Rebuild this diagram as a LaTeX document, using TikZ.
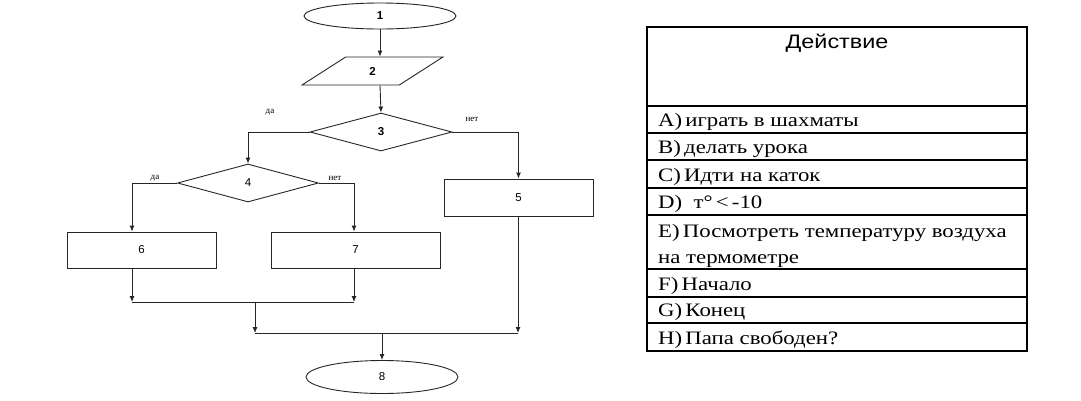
\documentclass[tikz,border=0pt]{standalone}
\usepackage{fontspec}
\setmainfont{Liberation Serif}
\newfontfamily\sansf{Liberation Sans}
\newfontfamily\rowf[FakeStretch=1.2]{Liberation Serif}
\newfontfamily\hdf[FakeStretch=1.2]{Liberation Sans}
\usetikzlibrary{shapes.geometric,arrows.meta}
\begin{document}
\begin{tikzpicture}[x=1pt,y=-1pt,
  fl/.style={draw=black!85,line width=0.9pt},
  arr/.style={fl,-{Latex[length=6pt,width=5pt]}},
  term/.style={fl,ellipse,inner sep=0pt,minimum width=152pt,font=\sansf\fontsize{11.5}{12}\selectfont},
  io/.style={fl,trapezium,trapezium left angle=57,trapezium right angle=123,trapezium stretches=true,inner sep=0pt,minimum width=141pt,minimum height=28pt,font=\sansf\bfseries\fontsize{11.5}{12}\selectfont},
  cond/.style={fl,diamond,inner sep=0pt,minimum width=142pt,minimum height=38pt,font=\sansf\fontsize{11.5}{12}\selectfont},
  proc/.style={fl,rectangle,inner sep=0pt,minimum width=149pt,minimum height=36pt,font=\sansf\fontsize{11.5}{12}\selectfont},
  yn/.style={font=\fontsize{9}{10}\selectfont,inner sep=0pt},
  tline/.style={draw=black,line width=1.2pt},
  row/.style={anchor=base west,inner sep=0pt,font=\rowf\fontsize{19}{20}\selectfont}
]
\useasboundingbox (0,0) rectangle (1081,400);
% flowchart
\node[term,minimum height=26pt] (n1) at (380,16) {\bfseries 1};
\node[io] (n2) at (372.5,71) {2};
\node[cond,font=\sansf\bfseries\fontsize{11.5}{12}\selectfont] (n3) at (381,132) {3};
\node[cond,minimum width=141pt] (n4) at (248,183) {4};
\node[proc,minimum height=37pt] (n5) at (518.5,197.5) {5};
\node[proc] (n6) at (141.5,250) {6};
\node[proc,minimum width=169pt] (n7) at (355.5,250) {7};
\node[term,minimum height=33pt] (n8) at (382,377) {8};

\node[yn] (y3) at (270,112) {да};
\node[yn] (no3) at (472,119) {нет};
\node[yn] (y4) at (155,178) {да};
\node[yn] (no4) at (335,178) {нет};

\coordinate (m6) at (132,302);
\coordinate (m7) at (354,302);
\coordinate (ja) at (255,302);
\coordinate (jb) at (255,333);
\coordinate (m5) at (518,333);

\draw[arr] (n1.south) -- (n1.south |- n2.north);
\draw[arr] (n1.south |- n2.south) -- (n3.north);
\draw[arr] (n3.west) -| (n4.north);
\draw[arr] (n3.east) -| (n5.north);
\draw[arr] (n4.west) -| (n6.north -| m6);
\draw[arr] (n4.east) -| (n7.north -| m7);
\draw[arr] (n6.south -| m6) -- (m6);
\draw[arr] (n7.south -| m7) -- (m7);
\draw[fl] (m6) -- (m7);
\draw[arr] (ja) -- (jb);
\draw[fl] (jb) -- (m5);
\draw[arr] (n5.south -| m5) -- (m5);
\draw[arr] (n8.north |- jb) -- (n8.north);

% table
\draw[tline] (647,27) rectangle (1027,351);
\foreach \yy in {106,133,160,188,215,269,297,323}
  \draw[tline] (647,\yy) -- (1027,\yy);
\node[anchor=base,inner sep=0pt,font=\hdf\fontsize{19.5}{20}\selectfont] (hd) at (837,48) {Действие};
\node[row] (ra) at (658,126) {A)\,играть в шахматы};
\node[row] (rb) at (658,153) {B)\,делать урока};
\node[row] (rc) at (658,181) {C)\,Идти на каток};
\node[row] (rd) at (658,208) {D)\ \ т°\,<\,-10};
\node[row] (re1) at (658,237) {E)\,Посмотреть температуру воздуха};
\node[row] (re2) at (658,263) {на термометре};
\node[row] (rf) at (658,290) {F)\,Начало};
\node[row] (rg) at (658,316) {G)\,Конец};
\node[row] (rh) at (658,344) {H)\,Папа свободен?};
\end{tikzpicture}
\end{document}
